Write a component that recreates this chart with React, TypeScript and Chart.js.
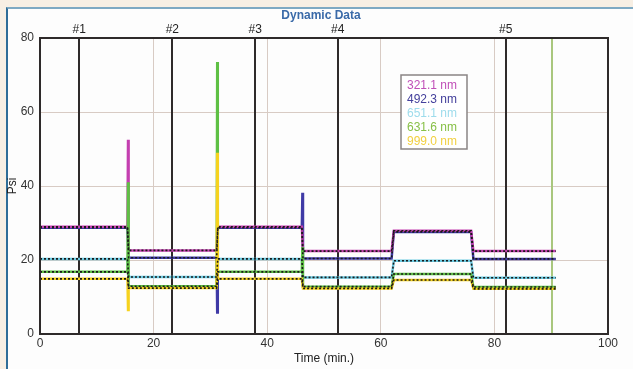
import React, { useEffect, useRef } from 'react';
import { Chart, registerables } from 'chart.js';
Chart.register(...registerables);

// ---- data ----
const segStart = [0, 15.6, 31.3, 46.3, 62.3, 76.3];
const segEnd = [15.4, 31.1, 46.1, 61.9, 75.9, 90.8];
const transTimes = [15.5, 31.2, 46.2, 62.1, 76.1];

const seriesNames = ['321.1 nm', '492.3 nm', '651.1 nm', '631.6 nm', '999.0 nm'];
const levels321 = [29.0, 22.6, 29.0, 22.4, 27.9, 22.4];
const levels492 = [28.7, 20.6, 28.7, 20.4, 27.6, 20.3];
const levels651 = [20.3, 15.4, 20.3, 15.3, 19.8, 15.2];
const levels631 = [16.8, 12.9, 16.8, 12.8, 16.2, 12.7];
const levels999 = [14.9, 12.4, 14.9, 12.3, 14.6, 12.2];
const spikes321 = [52.5, null, null, null, null];
const spikes492 = [null, 5.8, 38.2, null, null];
const spikes651 = [null, null, null, null, null];
const spikes631 = [41.0, 73.5, 23.5, null, null];
const spikes999 = [6.5, 49.0, null, null, null];

const markerTimes = [6.9, 23.3, 37.9, 52.4, 82.0];
const markerLabels = ['#1', '#2', '#3', '#4', '#5'];
const eventTimes = [90.2];

const xTicks = [0, 20, 40, 60, 80, 100];
const yTicks = [0, 20, 40, 60, 80];

const seriesColors = ['#c43fb0', '#3f3aa6', '#6ccbe2', '#5ec044', '#f6d21e'];
const legendColors = ['#c050b8', '#44409c', '#9edcec', '#88c048', '#f2d040'];
// drawing order (lower = on top)
const seriesOrder = [4, 5, 3, 2, 1];

const FONT = "'Liberation Sans', Arial, Helvetica, sans-serif";

function buildSeries(levels: number[], spikes: (number | null)[]) {
  const pts: { x: number; y: number }[] = [];
  for (let i = 0; i < levels.length; i++) {
    pts.push({ x: segStart[i], y: levels[i] });
    pts.push({ x: segEnd[i], y: levels[i] });
    if (i < transTimes.length && spikes[i] !== null) {
      pts.push({ x: transTimes[i], y: spikes[i] as number });
    }
  }
  return pts;
}
function buildLevels(levels: number[]) {
  const pts: { x: number; y: number }[] = [];
  for (let i = 0; i < levels.length; i++) {
    pts.push({ x: segStart[i], y: levels[i] });
    pts.push({ x: segEnd[i], y: levels[i] });
  }
  return pts;
}

const allLevels = [levels321, levels492, levels651, levels631, levels999];
const allSpikes = [spikes321, spikes492, spikes651, spikes631, spikes999];

const decorPlugin = {
  id: 'decor',
  beforeDatasetsDraw(chart: any) {
    const { ctx, chartArea, scales } = chart;
    ctx.save();
    ctx.strokeStyle = '#a9c77e';
    ctx.lineWidth = 2;
    eventTimes.forEach((t) => {
      const x = Math.round(scales.x.getPixelForValue(t));
      ctx.beginPath();
      ctx.moveTo(x, chartArea.top);
      ctx.lineTo(x, chartArea.bottom);
      ctx.stroke();
    });
    ctx.strokeStyle = '#2e2a2a';
    ctx.lineWidth = 2;
    markerTimes.forEach((t) => {
      const x = Math.round(scales.x.getPixelForValue(t));
      ctx.beginPath();
      ctx.moveTo(x, chartArea.top);
      ctx.lineTo(x, chartArea.bottom);
      ctx.stroke();
    });
    ctx.restore();
  },
  afterDraw(chart: any) {
    const { ctx, chartArea, scales } = chart;
    ctx.save();
    ctx.strokeStyle = '#2e2a2a';
    ctx.lineWidth = 2;
    ctx.strokeRect(chartArea.left, chartArea.top, chartArea.right - chartArea.left, chartArea.bottom - chartArea.top);
    ctx.fillStyle = '#222';
    ctx.font = `12px ${FONT}`;
    ctx.textAlign = 'center';
    ctx.textBaseline = 'middle';
    markerTimes.forEach((t, i) => {
      const x = scales.x.getPixelForValue(t);
      ctx.fillText(markerLabels[i], x, chartArea.top - 8);
    });
    ctx.fillStyle = '#3a6aa8';
    ctx.font = `bold 12px ${FONT}`;
    ctx.fillText('Dynamic Data', 321, 16);
    const bx = 401, by = 75, bw = 66, bh = 74;
    ctx.fillStyle = '#ffffff';
    ctx.fillRect(bx, by, bw, bh);
    ctx.strokeStyle = '#8a8585';
    ctx.lineWidth = 1.5;
    ctx.strokeRect(bx, by, bw, bh);
    ctx.font = `12px ${FONT}`;
    ctx.textAlign = 'left';
    seriesNames.forEach((n, i) => {
      ctx.fillStyle = legendColors[i];
      ctx.fillText(n, bx + 6, by + 11 + i * 13.8);
    });
    ctx.restore();
  },
};

export default function App() {
  const ref = useRef<HTMLCanvasElement | null>(null);
  useEffect(() => {
    if (!ref.current) return;
    const datasets: any[] = [];
    allLevels.forEach((lv, i) => {
      datasets.push({
        label: seriesNames[i],
        data: buildSeries(lv, allSpikes[i]),
        borderColor: seriesColors[i],
        backgroundColor: seriesColors[i],
        borderWidth: 2.5,
        pointRadius: 0,
        tension: 0,
        order: seriesOrder[i],
      });
    });
    allLevels.forEach((lv, i) => {
      datasets.push({
        label: 'ref ' + seriesNames[i],
        data: buildLevels(lv),
        borderColor: '#1a1a1a',
        borderWidth: 1.6,
        borderDash: [2, 2],
        pointRadius: 0,
        tension: 0,
        order: 0,
      });
    });
    const chart = new Chart(ref.current, {
      type: 'line',
      data: { datasets },
      options: {
        animation: false,
        responsive: false,
        devicePixelRatio: 1,
        layout: { padding: { top: 38, right: 25, left: 0, bottom: 0 } },
        plugins: { legend: { display: false }, tooltip: { enabled: false }, title: { display: false } },
        scales: {
          x: {
            type: 'linear',
            min: 0,
            max: 100,
            afterBuildTicks: (s: any) => { s.ticks = xTicks.map((v) => ({ value: v })); },
            afterFit: (s: any) => { s.height = 35; },
            ticks: { color: '#333', font: { family: FONT, size: 12 }, padding: 2, maxRotation: 0 },
            grid: { color: '#d8cbc4', lineWidth: 1, drawTicks: false },
            border: { display: false },
            title: { display: true, text: 'Time (min.)', color: '#222', font: { family: FONT, size: 12 }, padding: { top: 0, bottom: 3 } },
          },
          y: {
            type: 'linear',
            min: 0,
            max: 80,
            afterBuildTicks: (s: any) => { s.ticks = yTicks.map((v) => ({ value: v })); },
            afterFit: (s: any) => { s.width = 40; },
            ticks: { color: '#333', font: { family: FONT, size: 12 }, padding: 6 },
            grid: { color: '#d8cbc4', lineWidth: 1, drawTicks: false },
            border: { display: false },
            title: { display: true, text: 'Psi', color: '#222', font: { family: FONT, size: 12 }, padding: { top: 5, bottom: 0 } },
          },
        },
      } as any,
      plugins: [decorPlugin],
    });
    return () => chart.destroy();
  }, []);
  return (
    <div style={{ position: 'fixed', left: 0, top: 0, width: 633, height: 369, background: '#f7efe4', overflow: 'hidden' }}>
      <div style={{ position: 'absolute', left: 6, top: 7, right: 0, bottom: -4, background: '#fdfdfd', borderLeft: '2px solid #2f6d98', borderTop: '2px solid #7ea9c3' }} />
      <canvas ref={ref} width={633} height={369} style={{ position: 'absolute', left: 0, top: 0, width: 633, height: 369 }} />
    </div>
  );
}
